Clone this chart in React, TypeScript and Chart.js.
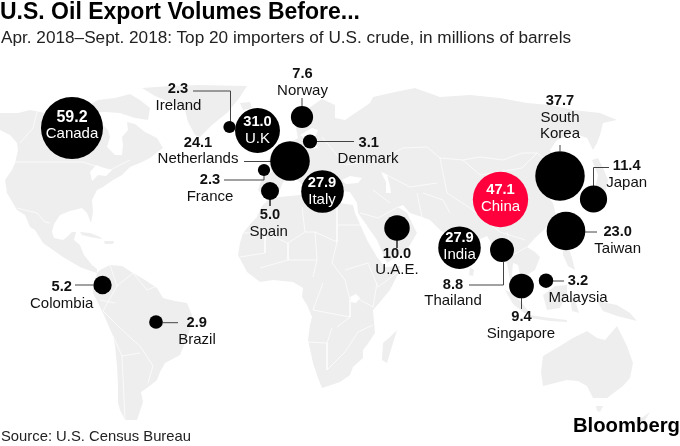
import React, { useEffect, useRef } from "react";
import { Chart, registerables } from "chart.js";

Chart.register(...registerables);

// Countries and their volumes (millions of barrels), with map position of each bubble
const countries = ["Canada", "U.K", "Ireland", "Norway", "Denmark", "Netherlands", "France", "Spain", "Italy", "U.A.E.", "India", "China", "South Korea", "Japan", "Taiwan", "Thailand", "Singapore", "Malaysia", "Colombia", "Brazil"];
const volumes = [59.2, 31.0, 2.3, 7.6, 3.1, 24.1, 2.3, 5.0, 27.9, 10.0, 27.9, 47.1, 37.7, 11.4, 23.0, 8.8, 9.4, 3.2, 5.2, 2.9];
const mapX = [72, 257.5, 229.5, 302, 310, 290, 264, 270, 322.5, 397, 459.5, 500.5, 560, 593.5, 566, 502, 521.5, 546, 102.5, 156];
const mapY = [128, 130.5, 127, 117, 141.5, 161, 170, 191, 191.5, 228, 247.7, 199.5, 176, 199, 231, 250, 286, 280.7, 285, 322];

// Label anchors: [value x, value y, name x, name y]
const valueLabelX = [72, 257.5, 178, 302.5, 368.7, 198, 210, 270, 322, 397, 459.5, 500.5, 560, 626.7, 617.7, 453, 521.5, 578, 61.7, 196.7];
const valueLabelY = [122, 125.7, 93, 77.7, 146.7, 146.7, 184, 219, 186.7, 257.7, 242, 194, 105, 170, 236, 288.7, 320.7, 285, 291.3, 327];
const nameLabelX = [72, 257.5, 178.5, 302.5, 368, 198, 210, 268.7, 322, 397, 459.5, 500.5, 560, 626.7, 617.7, 453, 521, 578, 61.7, 197];
const nameLabelY = [138, 143, 110, 95, 163, 163, 201, 235.7, 204, 274, 259, 211, 121.7, 186.7, 252.7, 305, 338, 302, 308, 343.7];

const leaders: [number, number][][] = [
  [[193, 91], [230.5, 91], [230.5, 122]],
  [[302, 106], [302, 98]],
  [[316, 141.5], [354, 141.5]],
  [[244, 161.5], [271, 161.5]],
  [[224, 180], [264, 180], [264, 175]],
  [[270, 199], [270, 206]],
  [[397, 240], [397, 248]],
  [[560, 151], [560, 145]],
  [[593.5, 186], [593.5, 167.5], [609, 167.5]],
  [[585, 232], [597, 232]],
  [[503.5, 262], [503.5, 285], [469, 285]],
  [[521.5, 298], [521.5, 309]],
  [[553, 281], [564, 281]],
  [[75, 285], [93, 285]],
  [[163, 322.7], [178, 322.7]],
];

// Land outlines, traced in map units
const land: [number, number][][] = [
  // North America
  [[0, 113], [18, 113], [30, 110], [45, 113], [60, 112], [80, 113], [88, 118], [100, 122], [108, 130], [110, 137], [107, 147], [115, 155], [122, 155], [123, 145], [122, 137], [128, 130], [127, 122], [135, 124], [145, 132], [157, 138], [163, 148], [150, 158], [140, 163], [130, 167], [122, 175], [113, 180], [103, 187], [97, 190], [92, 200], [93, 212], [91, 223], [87, 213], [82, 208], [70, 211], [60, 215], [54, 224], [52, 232], [54, 238], [63, 240], [68, 236], [72, 232], [76, 232], [74, 240], [80, 245], [84, 255], [92, 265], [97, 269], [97, 273], [88, 270], [80, 267], [63, 257], [43, 243], [35, 230], [30, 227], [25, 215], [17, 210], [7, 193], [5, 180], [12, 170], [15, 163], [18, 150], [17, 143], [10, 135], [0, 130]],
  // Arctic islands
  [[83, 108], [98, 100], [115, 98], [130, 94], [140, 100], [150, 108], [148, 120], [135, 118], [120, 113], [105, 112], [92, 113]],
  // Greenland
  [[142, 88], [170, 86], [200, 85], [247, 86], [240, 97], [228, 112], [212, 125], [200, 137], [195, 135], [188, 122], [185, 110], [172, 103], [155, 96]],
  // Cuba
  [[80, 232], [90, 233], [100, 237], [102, 239], [90, 237], [82, 235]],
  [[104, 241], [114, 241], [113, 244], [105, 244]],
  // South America
  [[97, 273], [100, 270], [110, 265], [122, 266], [133, 273], [145, 280], [157, 288], [163, 298], [175, 301], [187, 303], [192, 315], [192, 322], [187, 338], [180, 355], [165, 363], [160, 372], [157, 380], [147, 388], [141, 392], [143, 402], [137, 420], [125, 420], [120, 410], [118, 403], [118, 385], [117, 366], [115, 345], [113, 336], [103, 313], [97, 301], [93, 293], [93, 286]],
  // Africa
  [[268, 200], [280, 197], [300, 195], [310, 199], [312, 206], [325, 207], [340, 203], [353, 205], [355, 213], [367, 240], [377, 257], [385, 267], [400, 266], [399, 272], [390, 290], [380, 302], [373, 310], [374, 322], [375, 333], [367, 345], [363, 350], [363, 358], [353, 367], [350, 375], [340, 382], [322, 388], [318, 378], [313, 363], [308, 340], [310, 325], [312, 317], [307, 305], [302, 297], [303, 288], [293, 282], [273, 280], [260, 282], [247, 272], [238, 255], [240, 243], [243, 233], [252, 222], [257, 217], [262, 206]],
  // Madagascar
  [[397, 330], [393, 343], [387, 363], [382, 360], [383, 343], [390, 337]],
  // Eurasia
  [[258, 190], [262, 178], [272, 172], [268, 160], [280, 152], [290, 143], [298, 138], [296, 128], [306, 110], [322, 99], [335, 105], [335, 118], [345, 120], [370, 103], [373, 97], [395, 92], [415, 88], [440, 97], [470, 95], [500, 98], [527, 103], [550, 105], [573, 110], [600, 113], [617, 120], [603, 123], [600, 135], [597, 143], [593, 150], [587, 138], [573, 133], [557, 140], [550, 150], [560, 165], [565, 180], [553, 190], [548, 197], [553, 203], [556, 215], [547, 227], [535, 238], [527, 247], [535, 252], [540, 257], [535, 270], [527, 275], [520, 275], [518, 265], [513, 263], [512, 275], [518, 295], [510, 280], [507, 263], [497, 253], [487, 236], [478, 240], [470, 255], [463, 266], [455, 250], [448, 235], [440, 230], [430, 220], [422, 217], [410, 213], [403, 205], [398, 207], [407, 213], [417, 233], [407, 250], [387, 263], [377, 240], [358, 213], [357, 203], [350, 192], [335, 190], [322, 195], [305, 187], [295, 178], [283, 182], [278, 195], [265, 198]],
  // Sri Lanka
  [[470, 267], [474, 270], [473, 276], [469, 275]],
  // Japan
  [[592, 160], [598, 158], [603, 168], [608, 180], [605, 195], [590, 208], [585, 205], [595, 190], [598, 175]],
  // Philippines
  [[563, 245], [568, 246], [572, 258], [575, 270], [568, 266], [563, 255]],
  // Sumatra
  [[505, 290], [512, 293], [522, 303], [530, 313], [524, 313], [513, 304]],
  // Java
  [[530, 315], [550, 318], [567, 320], [567, 322], [550, 321], [530, 318]],
  // Borneo
  [[543, 295], [555, 286], [567, 285], [567, 293], [560, 308], [547, 310]],
  // Sulawesi
  [[570, 298], [580, 296], [576, 303], [579, 313], [572, 311]],
  // New Guinea
  [[597, 301], [617, 305], [630, 313], [637, 321], [617, 316], [603, 311]],
  // Australia
  [[543, 386], [541, 372], [543, 356], [560, 346], [573, 338], [587, 331], [597, 338], [605, 340], [617, 326], [627, 346], [633, 363], [630, 378], [623, 386], [607, 398], [593, 398], [587, 386], [578, 381], [567, 380]],
  // Tasmania
  [[596, 406], [603, 406], [600, 412], [597, 411]],
  // New Zealand
  [[650, 412], [645, 420], [634, 424], [636, 420], [643, 417]],
  // Iceland
  [[240, 103], [250, 102], [252, 108], [243, 110]],
];

// Inland seas and lakes
const water: [number, number][][] = [
  [[90, 172], [96, 165], [104, 168], [112, 170], [106, 176], [98, 175], [92, 181]],
  [[342, 180], [350, 176], [362, 178], [358, 183], [346, 184]],
  [[381, 172], [387, 175], [390, 186], [391, 193], [386, 193], [386, 182]],
  [[350, 297], [356, 294], [360, 298], [356, 303], [351, 302]],
  [[300, 135], [312, 128], [318, 130], [314, 140], [318, 148], [308, 149], [308, 140]],
];

// Thin white country borders
const borders: [number, number][][] = [
  [[15, 162], [83, 162], [95, 166], [110, 170], [130, 160]],
  [[37, 112], [33, 128], [20, 143]],
  [[17, 208], [37, 213], [45, 222], [50, 223]],
  [[110, 265], [117, 286], [133, 273]],
  [[117, 286], [103, 311], [117, 325], [133, 340], [140, 346], [153, 366], [148, 383]],
  [[113, 336], [122, 356], [125, 420]],
  [[122, 356], [140, 353]],
  [[133, 273], [147, 290], [157, 286]],
  [[100, 300], [115, 303]],
  [[302, 207], [305, 232], [288, 243], [265, 233], [243, 233]],
  [[265, 233], [265, 253], [240, 257]],
  [[337, 203], [337, 242]],
  [[337, 225], [367, 225]],
  [[305, 232], [315, 232], [317, 260], [313, 277]],
  [[315, 232], [337, 242], [332, 263], [345, 280]],
  [[345, 270], [368, 263], [378, 287], [398, 272]],
  [[323, 283], [313, 310], [350, 317], [337, 327]],
  [[345, 280], [350, 300], [350, 317]],
  [[308, 342], [327, 343], [332, 328]],
  [[327, 343], [327, 370]],
  [[358, 332], [373, 325]],
  [[377, 283], [373, 307], [355, 297]],
  [[288, 243], [288, 260], [260, 268]],
  [[317, 260], [288, 260]],
  [[327, 370], [345, 352], [358, 332]],
  [[380, 160], [403, 148], [427, 147], [440, 158], [463, 160], [480, 157], [503, 160], [522, 153], [537, 153], [552, 165]],
  [[383, 173], [410, 187], [437, 183]],
  [[373, 190], [390, 203]],
  [[417, 193], [422, 217]],
  [[423, 193], [443, 200], [450, 213]],
  [[360, 213], [378, 218], [398, 207]],
  [[440, 158], [447, 193], [470, 208], [500, 232], [525, 240]],
  [[345, 165], [380, 160]],
  [[322, 137], [345, 165]],
  [[463, 160], [480, 175], [522, 168], [537, 153]],
  [[507, 232], [513, 255], [527, 247]],
];

const LAND = "#eeeeee";
const BUBBLE = "#000000";
const HIGHLIGHT = "#ff003c";
const LABEL_FONT = '"Liberation Sans", Arial, sans-serif';

const toPoints = (rows: [number, number][]) => rows.map(([x, y]) => ({ x, y }));

const labelsPlugin = {
  id: "bubbleLabels",
  afterDatasetsDraw(chart: any) {
    const { ctx, scales } = chart;
    const inside = (i: number) => ["Canada", "U.K", "Italy", "India", "China"].includes(countries[i]);
    ctx.save();
    ctx.textAlign = "center";
    ctx.textBaseline = "alphabetic";
    countries.forEach((name, i) => {
      const color = inside(i) ? "#ffffff" : "#111111";
      ctx.fillStyle = color;
      ctx.font = `bold ${name === "Canada" ? 16 : 14.7}px ${LABEL_FONT}`;
      ctx.fillText(volumes[i].toFixed(1), scales.x.getPixelForValue(valueLabelX[i]), scales.y.getPixelForValue(valueLabelY[i]));
      ctx.font = `15px ${LABEL_FONT}`;
      const nx = scales.x.getPixelForValue(nameLabelX[i]);
      if (name === "South Korea") {
        ctx.fillText("South", nx, scales.y.getPixelForValue(nameLabelY[i]));
        ctx.fillText("Korea", nx, scales.y.getPixelForValue(nameLabelY[i] + 16.5));
      } else {
        ctx.fillText(name, nx, scales.y.getPixelForValue(nameLabelY[i]));
      }
    });
    ctx.restore();
  },
};

const textBase: React.CSSProperties = {
  position: "absolute",
  fontFamily: LABEL_FONT,
  whiteSpace: "nowrap",
  margin: 0,
  color: "#111",
  lineHeight: 1,
};

export default function App() {
  const ref = useRef<HTMLCanvasElement>(null);
  useEffect(() => {
    const polyDataset = (rows: [number, number][], color: string, order: number) => ({
      type: "line",
      data: toPoints(rows),
      fill: "shape",
      backgroundColor: color,
      borderWidth: 0,
      pointRadius: 0,
      tension: 0,
      order,
    });
    const lineDataset = (rows: [number, number][], color: string, width: number, order: number) => ({
      type: "line",
      data: toPoints(rows),
      fill: false,
      borderColor: color,
      borderWidth: width,
      pointRadius: 0,
      tension: 0,
      order,
    });
    const chart = new Chart(ref.current as HTMLCanvasElement, {
      type: "bubble",
      data: {
        datasets: [
          ...land.map((r) => polyDataset(r, LAND, 30)),
          ...water.map((r) => polyDataset(r, "#ffffff", 20)),
          ...borders.map((r) => lineDataset(r, "#ffffff", 0.7, 10)),
          ...leaders.map((r) => lineDataset(r, "#444444", 1, 5)),
          {
            type: "bubble",
            label: "Imports of U.S. crude",
            data: countries.map((_, i) => ({ x: mapX[i], y: mapY[i], r: 4.03 * Math.sqrt(volumes[i]) })),
            backgroundColor: countries.map((c) => (c === "China" ? HIGHLIGHT : BUBBLE)),
            borderWidth: 0,
            hoverBorderWidth: 0,
            order: 1,
          },
        ] as any,
      },
      options: {
        animation: false,
        responsive: false,
        layout: { padding: 0, autoPadding: false },
        plugins: { legend: { display: false }, tooltip: { enabled: false } },
        scales: {
          x: { type: "linear", min: 0, max: 680, display: false },
          y: { type: "linear", min: 0, max: 446, reverse: true, display: false },
        },
      },
      plugins: [labelsPlugin],
    } as any);
    return () => chart.destroy();
  }, []);
  return (
    <div style={{ position: "absolute", left: 0, top: 0, width: 680, height: 446, background: "#fff", overflow: "hidden" }}>
      <canvas ref={ref} width={680} height={446} style={{ position: "absolute", left: 0, top: 0, display: "block" }} />
      <div style={{ ...textBase, left: 0, top: 0, fontSize: 23, fontWeight: 700, color: "#000" }}>U.S. Oil Export Volumes Before...</div>
      <div style={{ ...textBase, left: 1, top: 29, fontSize: 17.2, color: "#222" }}>Apr. 2018–Sept. 2018: Top 20 importers of U.S. crude, in millions of barrels</div>
      <div style={{ ...textBase, left: 1, top: 429, fontSize: 14.8, color: "#222" }}>Source: U.S. Census Bureau</div>
      <div style={{ ...textBase, right: 0, top: 415, fontSize: 20.3, fontWeight: 700, color: "#000" }}>Bloomberg</div>
    </div>
  );
}
